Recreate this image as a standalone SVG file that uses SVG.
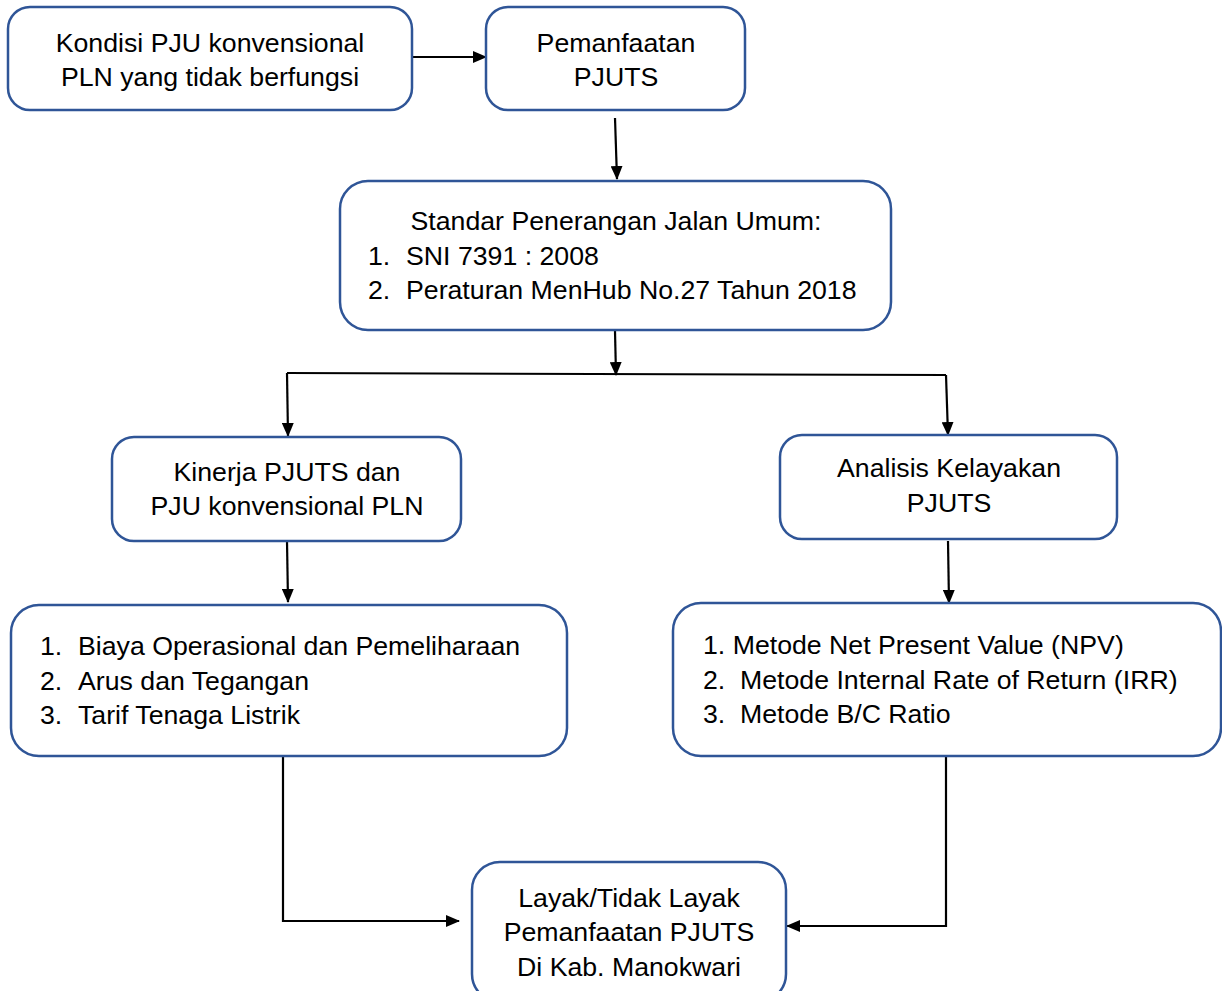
<svg xmlns="http://www.w3.org/2000/svg" width="1222" height="991" viewBox="0 0 1222 991">
<defs>
<marker id="ah" markerWidth="14" markerHeight="12" refX="13" refY="6" orient="auto" markerUnits="userSpaceOnUse" viewBox="0 0 14 12">
<path d="M0,0 L14,6 L0,12 z" fill="#000"/>
</marker>
<style>
.box{fill:#fff;stroke:#2F5597;stroke-width:2.5}
.t{font-family:"Liberation Sans",Arial,sans-serif;font-size:26.7px;fill:#000}
.c{text-anchor:middle}
.ln{stroke:#000;stroke-width:2;fill:none}
.ar{stroke:#000;stroke-width:2.2;fill:none;marker-end:url(#ah)}
</style>
</defs>
<rect width="1222" height="991" fill="#fff"/>
<g id="connectors">
<line class="ar" x1="412" y1="57" x2="486" y2="57"/>
<line class="ar" x1="615" y1="118" x2="617" y2="179"/>
<line class="ar" x1="615" y1="331" x2="616" y2="375"/>
<line class="ln" x1="287" y1="373" x2="946" y2="375"/>
<line class="ar" x1="287" y1="373" x2="288" y2="436"/>
<line class="ar" x1="946" y1="375" x2="948" y2="435"/>
<line class="ar" x1="287" y1="541" x2="288" y2="602"/>
<line class="ar" x1="948" y1="541" x2="949" y2="603"/>
<polyline class="ar" points="283,757 283,921 459,921"/>
<polyline class="ar" points="946,757 946,926 787,926"/>
</g>
<g id="n1"><rect class="box" x="8" y="7" width="404" height="103" rx="22"/>
<text class="t c" x="210" y="52">Kondisi PJU konvensional</text>
<text class="t c" x="210" y="86">PLN yang tidak berfungsi</text></g>
<g id="n2"><rect class="box" x="486" y="7" width="259" height="103" rx="22"/>
<text class="t c" x="616" y="52">Pemanfaatan</text>
<text class="t c" x="616" y="86">PJUTS</text></g>
<g id="n3"><rect class="box" x="340" y="181" width="551" height="149" rx="28"/>
<text class="t c" x="616" y="230">Standar Penerangan Jalan Umum:</text>
<text class="t" y="265"><tspan x="368">1.</tspan><tspan x="406">SNI 7391 : 2008</tspan></text>
<text class="t" y="299"><tspan x="368">2.</tspan><tspan x="406">Peraturan MenHub No.27 Tahun 2018</tspan></text></g>
<g id="n4"><rect class="box" x="112" y="437" width="349" height="104" rx="22"/>
<text class="t c" x="287" y="481">Kinerja PJUTS dan</text>
<text class="t c" x="287" y="515">PJU konvensional PLN</text></g>
<g id="n5"><rect class="box" x="780" y="435" width="337" height="104" rx="22"/>
<text class="t c" x="949" y="477">Analisis Kelayakan</text>
<text class="t c" x="949" y="512">PJUTS</text></g>
<g id="n6"><rect class="box" x="11" y="605" width="556" height="151" rx="28"/>
<text class="t" y="655"><tspan x="40">1.</tspan><tspan x="78">Biaya Operasional dan Pemeliharaan</tspan></text>
<text class="t" y="690"><tspan x="40">2.</tspan><tspan x="78">Arus dan Tegangan</tspan></text>
<text class="t" y="724"><tspan x="40">3.</tspan><tspan x="78">Tarif Tenaga Listrik</tspan></text></g>
<g id="n7"><rect class="box" x="673" y="603" width="548" height="153" rx="28"/>
<text class="t" x="703" y="654">1. Metode Net Present Value (NPV)</text>
<text class="t" y="689"><tspan x="703">2.</tspan><tspan x="740">Metode Internal Rate of Return (IRR)</tspan></text>
<text class="t" y="723"><tspan x="703">3.</tspan><tspan x="740">Metode B/C Ratio</tspan></text></g>
<g id="n8"><rect class="box" x="472" y="862" width="314" height="140" rx="28"/>
<text class="t c" x="629" y="907">Layak/Tidak Layak</text>
<text class="t c" x="629" y="941">Pemanfaatan PJUTS</text>
<text class="t c" x="629" y="976">Di Kab. Manokwari</text></g>
</svg>
